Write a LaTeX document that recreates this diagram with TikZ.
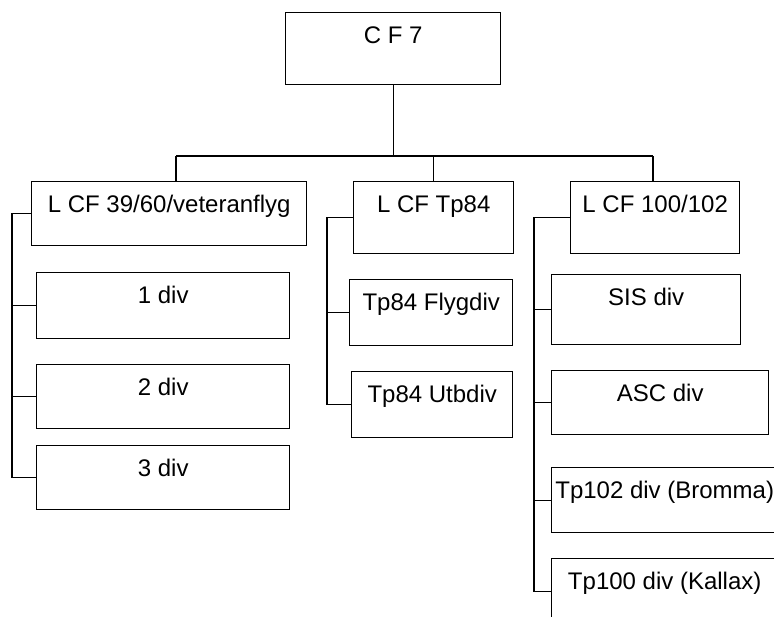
\documentclass[tikz,border=0pt]{standalone}
\usepackage{fontspec}
\setmainfont{Liberation Sans}

\begin{document}
\begin{tikzpicture}[x=1pt,y=-1pt,line width=1.4pt,
  unit/.style={draw,anchor=north west,inner sep=0pt,text height=31pt,
    font=\fontsize{24}{28}\selectfont}]
\useasboundingbox (0,0) rectangle (774,616);
\clip (0,0) rectangle (774,616);
\node[unit,minimum width=215pt,text depth=41pt] (cf7) at (285,12) {C F 7};
\node[unit,minimum width=275pt,text depth=33pt] (lcf39) at (31,181) {L CF 39/60/veteranflyg};
\node[unit,minimum width=253pt,text depth=35pt] (div1) at (36,272) {1 div};
\node[unit,minimum width=253pt,text depth=33pt] (div2) at (36,364) {2 div};
\node[unit,minimum width=253pt,text depth=33pt] (div3) at (36,445) {3 div};
\node[unit,minimum width=160pt,text depth=41pt] (lcf84) at (353,181) {L CF Tp84};
\node[unit,minimum width=163pt,text depth=35pt] (flyg) at (349,279) {Tp84 Flygdiv};
\node[unit,minimum width=161pt,text depth=35pt] (utb) at (351,371) {Tp84 Utbdiv};
\node[unit,minimum width=169pt,text depth=41pt] (lcf100) at (570,181) {L CF 100/102};
\node[unit,minimum width=189pt,text depth=39pt] (sis) at (551,274) {SIS div};
\node[unit,minimum width=217pt,text depth=33pt] (asc) at (551,370) {ASC div};
\node[unit,minimum width=226pt,text depth=34pt] (tp102) at (551,467) {Tp102 div (Bromma)};
\node[unit,minimum width=226pt,text depth=35pt] (tp100) at (551,558) {Tp100 div (Kallax)};
\coordinate (busL) at (176,156);
\coordinate (busR) at (653,156);
\coordinate (spineA) at (12,0);
\coordinate (spineB) at (327,0);
\coordinate (spineC) at (534,0);
\draw (cf7.south) -- (cf7.south |- busL);
\draw (busL) -- (busR);
\draw (busL) -- (busL |- lcf39.north);
\draw (lcf84.north |- busL) -- (lcf84.north);
\draw (busR) -- (busR |- lcf100.north);
\draw (lcf39.west) -- (lcf39.west -| spineA) |- (div3.west);
\foreach \n in {div1,div2} \draw (\n.west) -- (\n.west -| spineA);
\draw (lcf84.west) -- (lcf84.west -| spineB) |- (utb.west);
\draw (flyg.west) -- (flyg.west -| spineB);
\draw (lcf100.west) -- (lcf100.west -| spineC) |- (tp100.west);
\foreach \n in {sis,asc,tp102} \draw (\n.west) -- (\n.west -| spineC);
\end{tikzpicture}
\end{document}
